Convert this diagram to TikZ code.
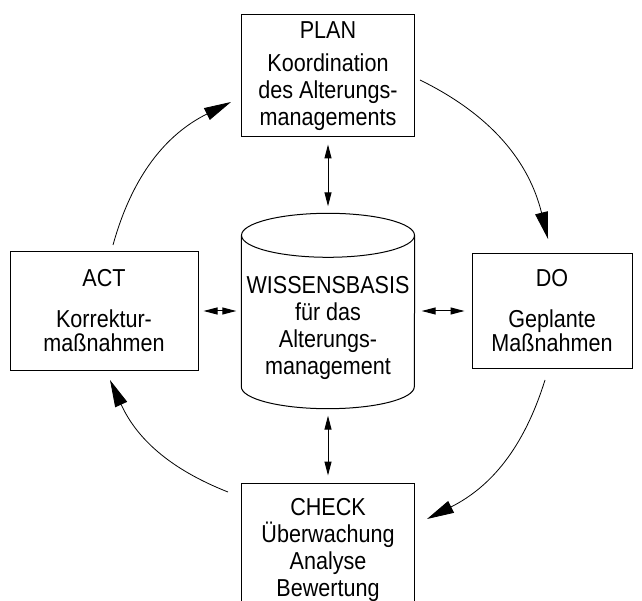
\documentclass[tikz,border=0pt]{standalone}
\usepackage{fontspec}
\setmainfont{Liberation Sans}[FakeStretch=0.88]
\usetikzlibrary{arrows.meta}

\begin{document}
\begin{tikzpicture}[
x = 1pt, y = -1pt,
every node/.style = {font=\fontsize{24.5}{27}\selectfont, align=center},
phase/.style = {rectangle, draw, line width=1pt, inner sep=0pt},
cycle/.style = {-{Triangle[length=27pt, width=13pt]}, line width=0.8pt},
link/.style = {{Triangle[length=14pt, width=7pt]}-{Triangle[length=14pt, width=7pt]}, line width=1pt, shorten <=7pt, shorten >=7pt}
]
\clip (0,0) rectangle (642,601);

\node[phase, minimum width=173pt, minimum height=122pt] (plan) at (328,76) {PLAN\\[6pt]Koordination\\des Alterungs-\\managements};
\node[phase, minimum width=188pt, minimum height=118pt] (act) at (104,311) {ACT\\[14pt]Korrektur-\\[-3pt]maßnahmen};
\node[phase, minimum width=160pt, minimum height=114pt] (do) at (552,311) {DO\\[14pt]Geplante\\[-3pt]Maßnahmen};
\node[phase, minimum width=173pt, minimum height=134pt] (check) at (328,550) {CHECK\\Überwachung\\Analyse\\Bewertung};

\node[minimum width=173pt, minimum height=195pt, inner sep=0pt] (kb) at (328,311) {};
\node (kbtext) at (328,328) {WISSENSBASIS\\für das\\Alterungs-\\management};
\draw[line width=1pt] ([yshift=-22pt]kb.north) ellipse [x radius=86.5pt, y radius=22pt];
\draw[line width=1pt] ([yshift=-22pt]kb.north west) -- ([yshift=22pt]kb.south west)
  arc [start angle=180, end angle=360, x radius=86.5pt, y radius=22pt] -- ([yshift=-22pt]kb.north east);

\draw[link] (plan) -- (kb);
\draw[link, shorten <=5pt, shorten >=5pt] (act) -- (kb);
\draw[link] (kb) -- (do);
\draw[link] (kb) -- (check);

\coordinate (actout) at (113,245);
\coordinate (planin) at (231,102);
\coordinate (planout) at (420,80);
\coordinate (doin) at (548,239);
\coordinate (doout) at (545,380);
\coordinate (checkin) at (427,519);
\coordinate (checkout) at (228,492);
\coordinate (actin) at (110,380);

\draw[cycle] (actout) to[bend left=24] (planin);
\draw[cycle] (planout) to[bend left=25] (doin);
\draw[cycle] (doout) to[bend left=23] (checkin);
\draw[cycle] (checkout) to[bend left=22] (actin);
\end{tikzpicture}
\end{document}
